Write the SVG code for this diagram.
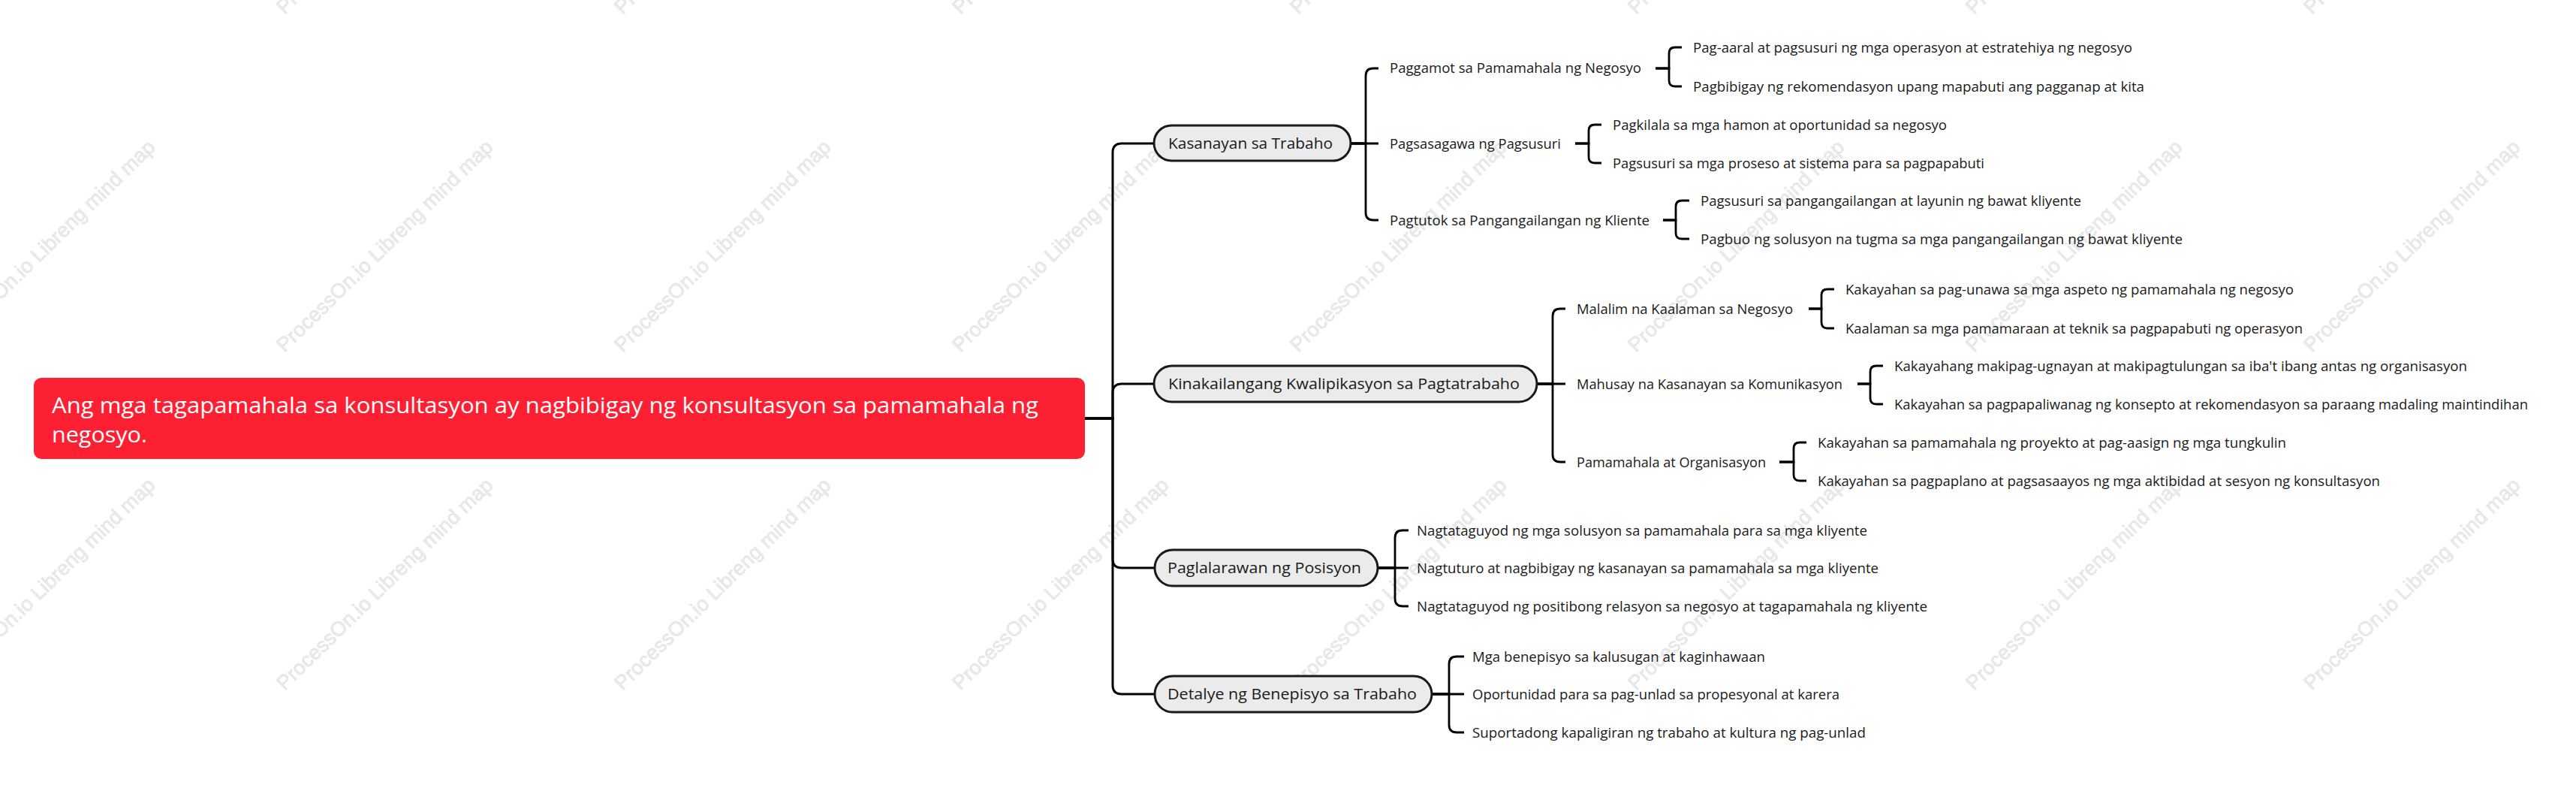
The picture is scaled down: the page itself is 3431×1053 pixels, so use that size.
<svg xmlns="http://www.w3.org/2000/svg" width="3431" height="1053" viewBox="0 0 3431 1053">
<style>
.wm{font-family:"Liberation Sans","Open Sans",sans-serif;font-size:27px;fill:#ebebeb;stroke:#e2e2e2;stroke-width:0.6}
.rt{font-family:"Open Sans","Liberation Sans",sans-serif;font-size:30px;fill:#ffffff}
.n1 rect{fill:#ebebeb;stroke:#1a1a1a;stroke-width:3}
.n1 text{font-family:"Open Sans","Liberation Sans",sans-serif;font-size:20px;fill:#1a1a1a}
.t{font-family:"Open Sans","Liberation Sans",sans-serif;font-size:17.5px;fill:#1a1a1a}
.c1{fill:none;stroke:#000;stroke-width:3}
.c2{fill:none;stroke:#000;stroke-width:2.8}
</style>
<rect width="3431" height="1053" fill="#ffffff"/>
<g id="watermark">
<text class="wm" x="-71" y="20" transform="rotate(-44.3 -71 20)" textLength="390" lengthAdjust="spacingAndGlyphs">ProcessOn.io Libreng mind map</text>
<text class="wm" x="379" y="20" transform="rotate(-44.3 379 20)" textLength="390" lengthAdjust="spacingAndGlyphs">ProcessOn.io Libreng mind map</text>
<text class="wm" x="829" y="20" transform="rotate(-44.3 829 20)" textLength="390" lengthAdjust="spacingAndGlyphs">ProcessOn.io Libreng mind map</text>
<text class="wm" x="1279" y="20" transform="rotate(-44.3 1279 20)" textLength="390" lengthAdjust="spacingAndGlyphs">ProcessOn.io Libreng mind map</text>
<text class="wm" x="1729" y="20" transform="rotate(-44.3 1729 20)" textLength="390" lengthAdjust="spacingAndGlyphs">ProcessOn.io Libreng mind map</text>
<text class="wm" x="2179" y="20" transform="rotate(-44.3 2179 20)" textLength="390" lengthAdjust="spacingAndGlyphs">ProcessOn.io Libreng mind map</text>
<text class="wm" x="2629" y="20" transform="rotate(-44.3 2629 20)" textLength="390" lengthAdjust="spacingAndGlyphs">ProcessOn.io Libreng mind map</text>
<text class="wm" x="3079" y="20" transform="rotate(-44.3 3079 20)" textLength="390" lengthAdjust="spacingAndGlyphs">ProcessOn.io Libreng mind map</text>
<text class="wm" x="-71" y="470" transform="rotate(-44.3 -71 470)" textLength="390" lengthAdjust="spacingAndGlyphs">ProcessOn.io Libreng mind map</text>
<text class="wm" x="379" y="470" transform="rotate(-44.3 379 470)" textLength="390" lengthAdjust="spacingAndGlyphs">ProcessOn.io Libreng mind map</text>
<text class="wm" x="829" y="470" transform="rotate(-44.3 829 470)" textLength="390" lengthAdjust="spacingAndGlyphs">ProcessOn.io Libreng mind map</text>
<text class="wm" x="1279" y="470" transform="rotate(-44.3 1279 470)" textLength="390" lengthAdjust="spacingAndGlyphs">ProcessOn.io Libreng mind map</text>
<text class="wm" x="1729" y="470" transform="rotate(-44.3 1729 470)" textLength="390" lengthAdjust="spacingAndGlyphs">ProcessOn.io Libreng mind map</text>
<text class="wm" x="2179" y="470" transform="rotate(-44.3 2179 470)" textLength="390" lengthAdjust="spacingAndGlyphs">ProcessOn.io Libreng mind map</text>
<text class="wm" x="2629" y="470" transform="rotate(-44.3 2629 470)" textLength="390" lengthAdjust="spacingAndGlyphs">ProcessOn.io Libreng mind map</text>
<text class="wm" x="3079" y="470" transform="rotate(-44.3 3079 470)" textLength="390" lengthAdjust="spacingAndGlyphs">ProcessOn.io Libreng mind map</text>
<text class="wm" x="-71" y="920" transform="rotate(-44.3 -71 920)" textLength="390" lengthAdjust="spacingAndGlyphs">ProcessOn.io Libreng mind map</text>
<text class="wm" x="379" y="920" transform="rotate(-44.3 379 920)" textLength="390" lengthAdjust="spacingAndGlyphs">ProcessOn.io Libreng mind map</text>
<text class="wm" x="829" y="920" transform="rotate(-44.3 829 920)" textLength="390" lengthAdjust="spacingAndGlyphs">ProcessOn.io Libreng mind map</text>
<text class="wm" x="1279" y="920" transform="rotate(-44.3 1279 920)" textLength="390" lengthAdjust="spacingAndGlyphs">ProcessOn.io Libreng mind map</text>
<text class="wm" x="1729" y="920" transform="rotate(-44.3 1729 920)" textLength="390" lengthAdjust="spacingAndGlyphs">ProcessOn.io Libreng mind map</text>
<text class="wm" x="2179" y="920" transform="rotate(-44.3 2179 920)" textLength="390" lengthAdjust="spacingAndGlyphs">ProcessOn.io Libreng mind map</text>
<text class="wm" x="2629" y="920" transform="rotate(-44.3 2629 920)" textLength="390" lengthAdjust="spacingAndGlyphs">ProcessOn.io Libreng mind map</text>
<text class="wm" x="3079" y="920" transform="rotate(-44.3 3079 920)" textLength="390" lengthAdjust="spacingAndGlyphs">ProcessOn.io Libreng mind map</text>
</g>
<g id="connectors">
<path class="c1" d="M1445 557 H1482 V203 Q1482 191 1494 191 H1537"/>
<path class="c1" d="M1445 557 H1482 V523 Q1482 511 1494 511 H1537"/>
<path class="c1" d="M1445 557 H1482 V744 Q1482 756 1494 756 H1538"/>
<path class="c1" d="M1445 557 H1482 V912 Q1482 924 1494 924 H1538"/>
<path class="c2" d="M1799 191 H1819 V101 Q1819 91 1829 91 H1836"/>
<path class="c2" d="M1799 191 H1836"/>
<path class="c2" d="M1799 191 H1819 V283 Q1819 293 1829 293 H1836"/>
<path class="c2" d="M2205 91 H2223 V71 Q2223 63 2231 63 H2240"/>
<path class="c2" d="M2205 91 H2223 V107 Q2223 115 2231 115 H2240"/>
<path class="c2" d="M2098 191 H2116 V174 Q2116 166 2124 166 H2133"/>
<path class="c2" d="M2098 191 H2116 V209 Q2116 217 2124 217 H2133"/>
<path class="c2" d="M2215 293 H2232 V275 Q2232 267 2240 267 H2250"/>
<path class="c2" d="M2215 293 H2232 V310 Q2232 318 2240 318 H2250"/>
<path class="c2" d="M2047 511 H2068 V421 Q2068 411 2078 411 H2085"/>
<path class="c2" d="M2047 511 H2085"/>
<path class="c2" d="M2047 511 H2068 V605 Q2068 615 2078 615 H2085"/>
<path class="c2" d="M2409 411 H2426 V393 Q2426 385 2434 385 H2443"/>
<path class="c2" d="M2409 411 H2426 V429 Q2426 437 2434 437 H2443"/>
<path class="c2" d="M2474 511 H2491 V495 Q2491 487 2499 487 H2508"/>
<path class="c2" d="M2474 511 H2491 V530 Q2491 538 2499 538 H2508"/>
<path class="c2" d="M2370 615 H2389 V597 Q2389 589 2397 589 H2406"/>
<path class="c2" d="M2370 615 H2389 V632 Q2389 640 2397 640 H2406"/>
<path class="c2" d="M1835 756 H1858 V716 Q1858 706 1868 706 H1876"/>
<path class="c2" d="M1835 756 H1876"/>
<path class="c2" d="M1835 756 H1858 V797 Q1858 807 1868 807 H1876"/>
<path class="c2" d="M1907 924 H1930 V884 Q1930 874 1940 874 H1950"/>
<path class="c2" d="M1907 924 H1950"/>
<path class="c2" d="M1907 924 H1930 V965 Q1930 975 1940 975 H1950"/>
</g>
<g id="root">
<rect x="45" y="503" width="1400" height="108" rx="10" fill="#fd2033"/>
<text class="rt" x="69" y="550" textLength="1314" lengthAdjust="spacingAndGlyphs">Ang mga tagapamahala sa konsultasyon ay nagbibigay ng konsultasyon sa pamamahala ng</text>
<text class="rt" x="69" y="589" textLength="127" lengthAdjust="spacingAndGlyphs">negosyo.</text>
</g>
<g id="kasanayan" class="n1">
<rect x="1537" y="167" width="262" height="47" rx="23.5"/>
<text x="1556" y="197.5" textLength="219" lengthAdjust="spacingAndGlyphs">Kasanayan sa Trabaho</text>
</g>
<g id="kasanayan-1"><text class="t" x="1851" y="97" textLength="335" lengthAdjust="spacingAndGlyphs">Paggamot sa Pamamahala ng Negosyo</text></g>
<g id="kasanayan-1-1"><text class="t" x="2255" y="69.5" textLength="585" lengthAdjust="spacingAndGlyphs">Pag-aaral at pagsusuri ng mga operasyon at estratehiya ng negosyo</text></g>
<g id="kasanayan-1-2"><text class="t" x="2255" y="121.5" textLength="601" lengthAdjust="spacingAndGlyphs">Pagbibigay ng rekomendasyon upang mapabuti ang pagganap at kita</text></g>
<g id="kasanayan-2"><text class="t" x="1851" y="197.5" textLength="228" lengthAdjust="spacingAndGlyphs">Pagsasagawa ng Pagsusuri</text></g>
<g id="kasanayan-2-1"><text class="t" x="2148" y="172.5" textLength="445" lengthAdjust="spacingAndGlyphs">Pagkilala sa mga hamon at oportunidad sa negosyo</text></g>
<g id="kasanayan-2-2"><text class="t" x="2148" y="223.5" textLength="495" lengthAdjust="spacingAndGlyphs">Pagsusuri sa mga proseso at sistema para sa pagpapabuti</text></g>
<g id="kasanayan-3"><text class="t" x="1851" y="299.5" textLength="346" lengthAdjust="spacingAndGlyphs">Pagtutok sa Pangangailangan ng Kliente</text></g>
<g id="kasanayan-3-1"><text class="t" x="2265" y="273.5" textLength="507" lengthAdjust="spacingAndGlyphs">Pagsusuri sa pangangailangan at layunin ng bawat kliyente</text></g>
<g id="kasanayan-3-2"><text class="t" x="2265" y="324.5" textLength="642" lengthAdjust="spacingAndGlyphs">Pagbuo ng solusyon na tugma sa mga pangangailangan ng bawat kliyente</text></g>
<g id="kwalipikasyon" class="n1">
<rect x="1537" y="487" width="510" height="48" rx="24"/>
<text x="1556" y="518" textLength="468" lengthAdjust="spacingAndGlyphs">Kinakailangang Kwalipikasyon sa Pagtatrabaho</text>
</g>
<g id="kwalipikasyon-1"><text class="t" x="2100" y="417.5" textLength="288" lengthAdjust="spacingAndGlyphs">Malalim na Kaalaman sa Negosyo</text></g>
<g id="kwalipikasyon-1-1"><text class="t" x="2458" y="391.5" textLength="597" lengthAdjust="spacingAndGlyphs">Kakayahan sa pag-unawa sa mga aspeto ng pamamahala ng negosyo</text></g>
<g id="kwalipikasyon-1-2"><text class="t" x="2458" y="443.5" textLength="609" lengthAdjust="spacingAndGlyphs">Kaalaman sa mga pamamaraan at teknik sa pagpapabuti ng operasyon</text></g>
<g id="kwalipikasyon-2"><text class="t" x="2100" y="517.5" textLength="354" lengthAdjust="spacingAndGlyphs">Mahusay na Kasanayan sa Komunikasyon</text></g>
<g id="kwalipikasyon-2-1"><text class="t" x="2523" y="493.5" textLength="763" lengthAdjust="spacingAndGlyphs">Kakayahang makipag-ugnayan at makipagtulungan sa iba't ibang antas ng organisasyon</text></g>
<g id="kwalipikasyon-2-2"><text class="t" x="2523" y="544.5" textLength="844" lengthAdjust="spacingAndGlyphs">Kakayahan sa pagpapaliwanag ng konsepto at rekomendasyon sa paraang madaling maintindihan</text></g>
<g id="kwalipikasyon-3"><text class="t" x="2100" y="621.5" textLength="252" lengthAdjust="spacingAndGlyphs">Pamamahala at Organisasyon</text></g>
<g id="kwalipikasyon-3-1"><text class="t" x="2421" y="595.5" textLength="624" lengthAdjust="spacingAndGlyphs">Kakayahan sa pamamahala ng proyekto at pag-aasign ng mga tungkulin</text></g>
<g id="kwalipikasyon-3-2"><text class="t" x="2421" y="646.5" textLength="749" lengthAdjust="spacingAndGlyphs">Kakayahan sa pagpaplano at pagsasaayos ng mga aktibidad at sesyon ng konsultasyon</text></g>
<g id="posisyon" class="n1">
<rect x="1538" y="732" width="297" height="48" rx="24"/>
<text x="1555" y="763" textLength="258" lengthAdjust="spacingAndGlyphs">Paglalarawan ng Posisyon</text>
</g>
<g id="posisyon-1"><text class="t" x="1887" y="712.5" textLength="600" lengthAdjust="spacingAndGlyphs">Nagtataguyod ng mga solusyon sa pamamahala para sa mga kliyente</text></g>
<g id="posisyon-2"><text class="t" x="1887" y="762.5" textLength="615" lengthAdjust="spacingAndGlyphs">Nagtuturo at nagbibigay ng kasanayan sa pamamahala sa mga kliyente</text></g>
<g id="posisyon-3"><text class="t" x="1887" y="813.5" textLength="680" lengthAdjust="spacingAndGlyphs">Nagtataguyod ng positibong relasyon sa negosyo at tagapamahala ng kliyente</text></g>
<g id="benepisyo" class="n1">
<rect x="1538" y="900" width="369" height="48" rx="24"/>
<text x="1555" y="931" textLength="332" lengthAdjust="spacingAndGlyphs">Detalye ng Benepisyo sa Trabaho</text>
</g>
<g id="benepisyo-1"><text class="t" x="1961" y="880.5" textLength="390" lengthAdjust="spacingAndGlyphs">Mga benepisyo sa kalusugan at kaginhawaan</text></g>
<g id="benepisyo-2"><text class="t" x="1961" y="930.5" textLength="489" lengthAdjust="spacingAndGlyphs">Oportunidad para sa pag-unlad sa propesyonal at karera</text></g>
<g id="benepisyo-3"><text class="t" x="1961" y="981.5" textLength="524" lengthAdjust="spacingAndGlyphs">Suportadong kapaligiran ng trabaho at kultura ng pag-unlad</text></g>
</svg>
